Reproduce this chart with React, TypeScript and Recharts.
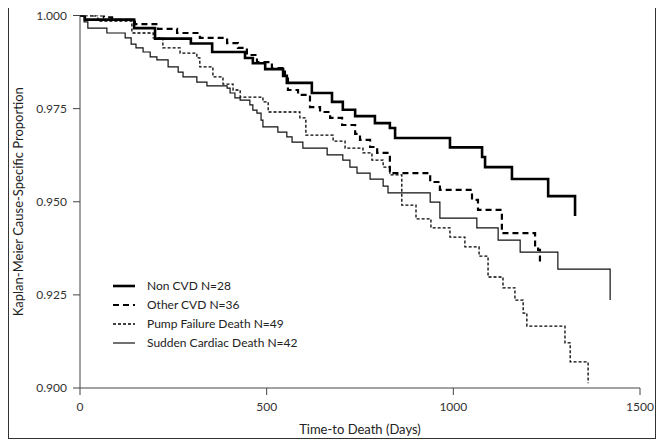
import React from "react";
import { Line, LineChart, XAxis, YAxis, Label } from "recharts";

// Kaplan-Meier step curves: event day and cause-specific proportion after it
const nonCvdDays = [0, 13, 145, 201, 297, 354, 442, 463, 496, 544, 554, 621, 675, 704, 737, 790, 830, 844, 991, 1077, 1085, 1157, 1254, 1326];
const nonCvdSurv = [1.0, 0.9989, 0.9966, 0.9938, 0.9925, 0.9902, 0.9886, 0.9872, 0.9856, 0.9838, 0.9819, 0.9792, 0.9768, 0.9747, 0.973, 0.9711, 0.9698, 0.9671, 0.9646, 0.962, 0.9593, 0.9561, 0.9515, 0.9462];

const otherCvdDays = [0, 64, 86, 147, 209, 260, 321, 394, 423, 447, 474, 514, 549, 557, 584, 616, 643, 670, 702, 737, 750, 777, 796, 830, 938, 964, 1050, 1066, 1130, 1219, 1227, 1232];
const otherCvdSurv = [1.0, 0.9995, 0.9988, 0.9977, 0.9964, 0.9953, 0.994, 0.9926, 0.9913, 0.9894, 0.9875, 0.9859, 0.9835, 0.98, 0.9787, 0.9754, 0.9741, 0.9725, 0.9706, 0.9682, 0.9666, 0.9647, 0.9631, 0.9577, 0.9553, 0.9532, 0.9505, 0.9478, 0.9416, 0.9379, 0.9371, 0.9336];

const pumpDays = [0, 48, 139, 196, 222, 268, 313, 321, 356, 383, 410, 429, 490, 504, 589, 605, 678, 710, 758, 782, 812, 830, 862, 900, 940, 991, 1031, 1069, 1093, 1133, 1165, 1187, 1197, 1299, 1313, 1361];
const pumpSurv = [1.0, 0.9985, 0.9953, 0.994, 0.9913, 0.9899, 0.9886, 0.9862, 0.9835, 0.9816, 0.98, 0.9781, 0.9768, 0.9741, 0.9725, 0.9679, 0.9663, 0.9644, 0.9631, 0.9612, 0.9593, 0.9572, 0.9491, 0.9454, 0.943, 0.9405, 0.9379, 0.9354, 0.9298, 0.9269, 0.9236, 0.9201, 0.9166, 0.9121, 0.907, 0.9013];

const suddenDays = [0, 11, 21, 72, 121, 137, 150, 169, 188, 206, 236, 263, 276, 313, 340, 394, 402, 415, 429, 455, 463, 474, 485, 490, 530, 554, 568, 597, 662, 704, 723, 742, 777, 812, 825, 938, 964, 1063, 1120, 1179, 1280, 1420];
const suddenSurv = [1.0, 0.9983, 0.9966, 0.9953, 0.994, 0.9923, 0.9913, 0.9902, 0.9889, 0.9881, 0.9862, 0.9848, 0.9835, 0.9821, 0.9811, 0.9805, 0.9792, 0.9779, 0.9773, 0.976, 0.9746, 0.9738, 0.9719, 0.9701, 0.9687, 0.9674, 0.966, 0.9644, 0.9626, 0.9612, 0.9593, 0.9577, 0.9561, 0.9542, 0.9524, 0.9499, 0.9456, 0.943, 0.9397, 0.9365, 0.9319, 0.9236];

const xTicks = [0, 500, 1000, 1500];
const yTicks = [0.9, 0.925, 0.95, 0.975, 1.0];

const toRows = (days: number[], surv: number[]) => days.map((d, i) => ({ day: d, s: surv[i] }));

const series = [
  { name: "Non CVD N=28", data: toRows(nonCvdDays, nonCvdSurv), width: 2.6, dash: undefined, color: "#000" },
  { name: "Other CVD N=36", data: toRows(otherCvdDays, otherCvdSurv), width: 2.2, dash: "6 4", color: "#000" },
  { name: "Pump Failure Death N=49", data: toRows(pumpDays, pumpSurv), width: 1.3, dash: "3 2", color: "#000" },
  { name: "Sudden Cardiac Death N=42", data: toRows(suddenDays, suddenSurv), width: 1.2, dash: undefined, color: "#111" },
];

const font = "Lato, 'Open Sans', sans-serif";

function LegendBox() {
  return (
    <div style={{ position: "absolute", left: 104, top: 268, fontFamily: font, fontSize: 12, color: "#222" }}>
      {series.map((s) => (
        <div key={s.name} style={{ display: "flex", alignItems: "center", height: 19 }}>
          <svg width={34} height={10}>
            <line x1={0} y1={5} x2={22} y2={5} stroke={s.color} strokeWidth={s.width} strokeDasharray={s.dash} />
          </svg>
          <span>{s.name}</span>
        </div>
      ))}
    </div>
  );
}

export default function App() {
  return (
    <div
      style={{
        width: 648,
        height: 432,
        boxSizing: "border-box",
        border: "1px solid #333",
        position: "relative",
        top: -1,
        fontFamily: font,
      }}
    >
      <LineChart width={646} height={430} margin={{ top: 7.5, right: 15, bottom: 0, left: 11 }}>
        <XAxis
          type="number"
          dataKey="day"
          domain={[0, 1500]}
          ticks={xTicks}
          allowDataOverflow
          height={50}
          tickSize={7}
          tickMargin={7}
          stroke="#444"
          tick={{ fill: "#333", fontSize: 12, fontFamily: font }}
        >
          <Label value="Time-to Death (Days)" position="insideBottom" offset={0} dy={-4} style={{ fill: "#222", fontSize: 13, fontFamily: font }} />
        </XAxis>
        <YAxis
          type="number"
          domain={[0.9, 1.0]}
          ticks={yTicks}
          allowDataOverflow
          width={60}
          tickSize={7}
          tickMargin={6}
          stroke="#444"
          tickFormatter={(v: number) => v.toFixed(3)}
          tick={{ fill: "#333", fontSize: 12, fontFamily: font }}
        >
          <Label
            value="Kaplan-Meier Cause-Specific Proportion"
            angle={-90}
            position="insideLeft"
            offset={0}
            dx={-2}
            style={{ textAnchor: "middle", fill: "#222", fontSize: 13, fontFamily: font }}
          />
        </YAxis>
        {series.map((s) => (
          <Line
            key={s.name}
            name={s.name}
            data={s.data}
            dataKey="s"
            type="stepAfter"
            stroke={s.color}
            strokeWidth={s.width}
            strokeDasharray={s.dash}
            dot={false}
            activeDot={false}
            isAnimationActive={false}
          />
        ))}
      </LineChart>
      <LegendBox />
    </div>
  );
}
